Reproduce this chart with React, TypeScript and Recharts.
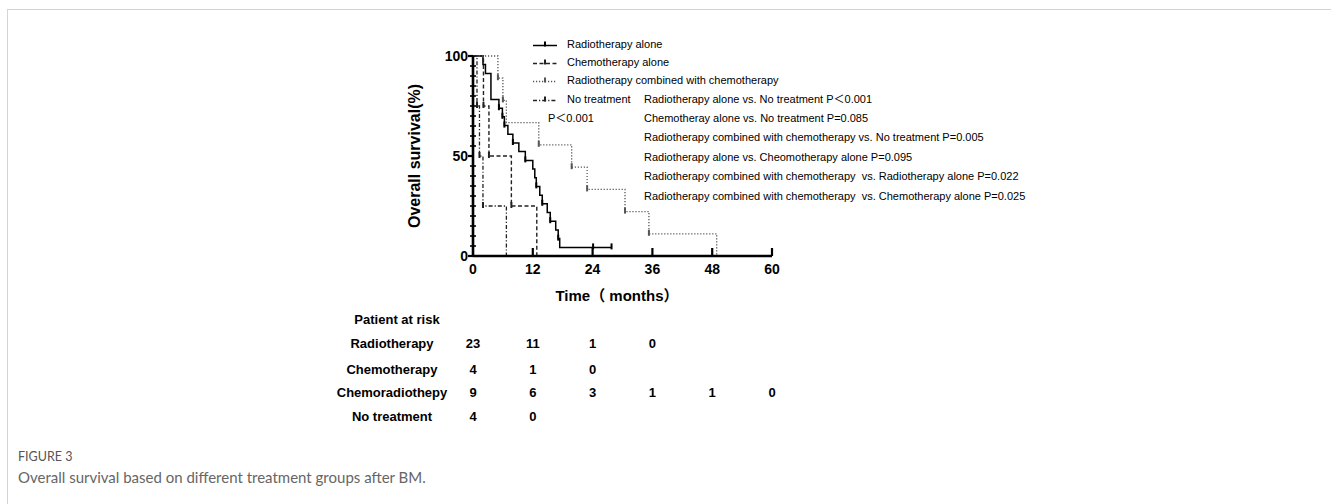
import { LineChart, Line, XAxis, YAxis } from "recharts";

// --- survival curves (months, % surviving, 1 = tick mark) ---
const radioTimes = [0, 2.0, 2.5, 3.6, 5.2, 5.9, 6.3, 7.0, 8.0, 9.2, 10.5, 12.0, 12.4, 12.7, 13.4, 13.9, 14.9, 15.5, 16.6, 17.1, 17.4, 24.1, 27.8];
const radioSurv = [100, 95.7, 91.3, 78.3, 73.9, 69.6, 65.2, 60.9, 56.5, 52.2, 47.8, 43.5, 39.1, 34.8, 30.4, 26.1, 21.7, 17.4, 13.0, 8.7, 4.3, 4.3, 4.3];
const radioCens = [0, 0, 0, 0, 1, 1, 1, 0, 1, 0, 1, 0, 0, 1, 0, 1, 0, 1, 0, 1, 0, 1, 1];

const chemoTimes = [0, 2.1, 3.2, 7.7, 12.8];
const chemoSurv = [100, 75, 50, 25, 0];
const chemoCens = [0, 1, 1, 1, 0];

const comboTimes = [0, 5.0, 6.0, 6.7, 13.2, 19.8, 22.9, 30.5, 35.3, 48.9];
const comboSurv = [100, 88.9, 77.8, 66.7, 55.6, 44.4, 33.3, 22.2, 11.1, 0];
const comboCens = [0, 1, 1, 0, 1, 1, 1, 1, 1, 0];

const noneTimes = [0, 0.8, 1.3, 2.0, 6.7];
const noneSurv = [100, 75, 50, 25, 0];
const noneCens = [0, 1, 1, 1, 0];

const xTicks = [0, 12, 24, 36, 48, 60];
const yTicks = [0, 5, 10, 15, 20, 25, 30, 35, 40, 45, 50, 55, 60, 65, 70, 75, 80, 85, 90, 95, 100];
const yLabels = [0, 50, 100];

const legendNames = [
  "Radiotherapy alone",
  "Chemotherapy alone",
  "Radiotherapy combined with chemotherapy",
  "No treatment",
];
const overallP = "P\uFF1C0.001";
const pairwiseP = [
  "Radiotherapy alone vs. No treatment P\uFF1C0.001",
  "Chemotheray alone vs. No treatment P=0.085",
  "Radiotherapy combined with chemotherapy vs. No treatment P=0.005",
  "Radiotherapy alone vs. Cheomotherapy alone P=0.095",
  "Radiotherapy combined with chemotherapy  vs. Radiotherapy alone P=0.022",
  "Radiotherapy combined with chemotherapy  vs. Chemotherapy alone P=0.025",
];

const riskGroups = ["Radiotherapy", "Chemotherapy", "Chemoradiothepy", "No treatment"];
const riskRadio = [23, 11, 1, 0];
const riskChemo = [4, 1, 0];
const riskCombo = [9, 6, 3, 1, 1, 0];
const riskNone = [4, 0];
const riskRows = [riskRadio, riskChemo, riskCombo, riskNone];

const FONT = '"Liberation Sans", Arial, "Noto Sans CJK SC", sans-serif';

// plot box on the page
const PLOT_LEFT = 473;
const PLOT_RIGHT = 772;
const PLOT_TOP = 56;
const PLOT_BOTTOM = 256;
const X_MAX = 60;

function toPoints(times: number[], surv: number[], cens: number[]) {
  return times.map((t, i) => ({ t, s: surv[i], c: cens[i] }));
}

const series = [
  { name: legendNames[0], data: toPoints(radioTimes, radioSurv, radioCens), color: "#000", width: 1.5, dash: undefined as string | undefined },
  { name: legendNames[1], data: toPoints(chemoTimes, chemoSurv, chemoCens), color: "#222", width: 1.4, dash: "4 2.5" },
  { name: legendNames[2], data: toPoints(comboTimes, comboSurv, comboCens), color: "#555", width: 1.3, dash: "1.2 1.8" },
  { name: legendNames[3], data: toPoints(noneTimes, noneSurv, noneCens), color: "#222", width: 1.3, dash: "4 2 1.2 2" },
];

const censorDot = (color: string) => (p: any) => {
  if (!p.payload || !p.payload.c) return <g key={`d-${p.index}`} />;
  return (
    <line
      key={`d-${p.index}`}
      x1={p.cx}
      x2={p.cx}
      y1={p.cy - 4}
      y2={p.cy + 2}
      stroke={color}
      strokeWidth={2}
    />
  );
};

function XTick(props: any) {
  const { x, y, payload } = props;
  return (
    <g>
      {payload.value > 0 && (
        <line x1={x} x2={x} y1={y} y2={y - 8} stroke="#000" strokeWidth={2.2} />
      )}
      <text x={x} y={y + 13} textAnchor="middle" dominantBaseline="central"
        fontFamily={FONT} fontWeight="bold" fontSize={14} fill="#000">
        {payload.value}
      </text>
    </g>
  );
}

function YTick(props: any) {
  const { x, y, payload } = props;
  const major = yLabels.includes(payload.value);
  return (
    <g>
      {major ? (
        <line x1={x - 5} x2={x} y1={y} y2={y} stroke="#000" strokeWidth={2.2} />
      ) : (
        <line x1={x - 3} x2={x + 3} y1={y} y2={y} stroke="#000" strokeWidth={1.6} />
      )}
      {major && (
        <text x={x - 5} y={y} textAnchor="end" dominantBaseline="central"
          fontFamily={FONT} fontWeight="bold" fontSize={14} fill="#000">
          {payload.value}
        </text>
      )}
    </g>
  );
}

function LegendSymbol({ color, dash, width }: { color: string; dash?: string; width: number }) {
  return (
    <svg width={24} height={10} style={{ display: "block" }}>
      <line x1={0} x2={24} y1={6} y2={6} stroke={color} strokeWidth={width} strokeDasharray={dash} />
      <line x1={12} x2={12} y1={2} y2={7} stroke={color} strokeWidth={2} />
    </svg>
  );
}

const legendY = [44, 62, 80, 99];
const pairwiseY = [99, 118, 137, 157, 176, 196];
const riskY = [343, 369, 392, 416];

function colX(i: number) {
  return PLOT_LEFT + ((xTicks[i] / X_MAX) * (PLOT_RIGHT - PLOT_LEFT));
}

const abs = (left: number, top: number, extra: React.CSSProperties = {}): React.CSSProperties => ({
  position: "absolute",
  left,
  top,
  fontFamily: FONT,
  whiteSpace: "pre",
  lineHeight: 1,
  ...extra,
});

export default function App() {
  return (
    <div style={{ position: "fixed", left: 0, top: 0, width: 1331, height: 504, background: "#fff", overflow: "hidden" }}>
      {/* card frame */}
      <div style={{ position: "absolute", left: 7, top: 9, width: 1400, height: 600, borderTop: "1px solid #d4d4d4", borderLeft: "1px solid #d4d4d4" }} />

      <div style={{ position: "absolute", left: 0, top: 0 }}>
        <LineChart
          width={1331}
          height={504}
          margin={{ top: PLOT_TOP, left: PLOT_LEFT - 40, right: 1331 - PLOT_RIGHT, bottom: 504 - PLOT_BOTTOM - 30 }}
        >
          <XAxis
            type="number"
            dataKey="t"
            domain={[0, X_MAX]}
            ticks={xTicks}
            interval={0}
            allowDataOverflow
            height={30}
            tickSize={0}
            tickMargin={0}
            tickLine={false}
            axisLine={{ stroke: "#000", strokeWidth: 2.6 }}
            tick={<XTick />}
          />
          <YAxis
            type="number"
            dataKey="s"
            domain={[0, 100]}
            ticks={yTicks}
            interval={0}
            width={40}
            tickSize={0}
            tickMargin={0}
            tickLine={false}
            axisLine={{ stroke: "#000", strokeWidth: 2.6 }}
            tick={<YTick />}
          />
          {series.map((s) => (
            <Line
              key={s.name}
              data={s.data}
              dataKey="s"
              name={s.name}
              type="stepAfter"
              stroke={s.color}
              strokeWidth={s.width}
              strokeDasharray={s.dash}
              dot={censorDot(s.color)}
              activeDot={false}
              isAnimationActive={false}
            />
          ))}
        </LineChart>
      </div>

      {/* axis titles */}
      <div style={abs(415, 156, { transform: "translate(-50%, -50%) rotate(-90deg)", fontWeight: "bold", fontSize: 16 })}>
        Overall survival(%)
      </div>
      <div style={abs(617, 295, { transform: "translate(-50%, -50%)", fontWeight: "bold", fontSize: 15 })}>
        Time（ months）
      </div>

      {/* legend */}
      {legendNames.map((n, i) => (
        <div key={n} style={abs(533, legendY[i], { transform: "translateY(-50%)", display: "flex", alignItems: "center", fontSize: 11 })}>
          <LegendSymbol color={series[i].color} dash={series[i].dash} width={series[i].width} />
          <span style={{ marginLeft: 10 }}>{n}</span>
        </div>
      ))}

      {/* p values */}
      <div style={abs(548, 118, { transform: "translateY(-50%)", fontSize: 11 })}>{overallP}</div>
      {pairwiseP.map((t, i) => (
        <div key={i} style={abs(644, pairwiseY[i], { transform: "translateY(-50%)", fontSize: 11 })}>{t}</div>
      ))}

      {/* number at risk */}
      <div style={abs(397, 319, { transform: "translate(-50%, -50%)", fontWeight: "bold", fontSize: 13 })}>Patient at risk</div>
      {riskGroups.map((g, r) => (
        <div key={g}>
          <div style={abs(392, riskY[r], { transform: "translate(-50%, -50%)", fontWeight: "bold", fontSize: 13 })}>{g}</div>
          {riskRows[r].map((v, c) => (
            <div key={c} style={abs(colX(c), riskY[r], { transform: "translate(-50%, -50%)", fontWeight: "bold", fontSize: 13 })}>
              {v}
            </div>
          ))}
        </div>
      ))}

      {/* caption */}
      <div style={abs(18, 451, { fontFamily: "Lato, 'Open Sans', sans-serif", fontSize: 12.5, color: "#555" })}>FIGURE 3</div>
      <div style={abs(18, 470, { fontFamily: "Lato, 'Open Sans', sans-serif", fontSize: 15, color: "#666" })}>
        Overall survival based on different treatment groups after BM.
      </div>
    </div>
  );
}
